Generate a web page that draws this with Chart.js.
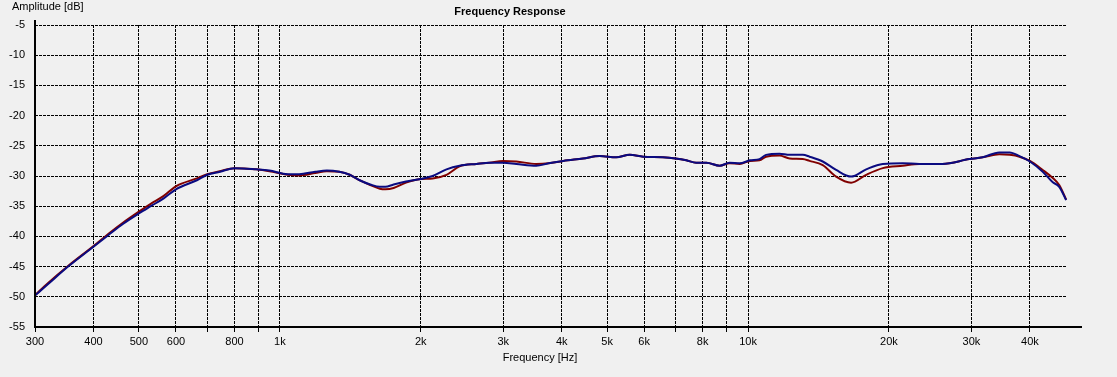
<!DOCTYPE html>
<html>
<head>
<meta charset="utf-8">
<script src="https://cdn.jsdelivr.net/npm/chart.js@4"></script>
<style>
  html, body { margin: 0; padding: 0; background: #f0f0f0; }
  #wrap { width: 1117px; height: 377px; }
</style>
</head>
<body>
<div id="wrap"><canvas id="c"></canvas></div>
<script>
const freqs = [300, 320, 353, 400, 430, 463, 500, 530, 565, 600, 665, 700, 745, 800, 890, 950,
  1040, 1100, 1190, 1260, 1340, 1410, 1480, 1560, 1635, 1680, 1750, 1860, 2000, 2120, 2270, 2420,
  2630, 2800, 3000, 3200, 3530, 3750, 4030, 4440, 4820, 5230, 5590, 5970, 6580, 7000, 7380, 7750,
  8150, 8700, 9130, 9600, 10100, 10580, 10930, 11670, 12270, 13090, 13530, 14440, 15420, 16600,
  17880, 19400, 21400, 23200, 26000, 29700, 31700, 34400, 36200, 38000, 40000, 42600, 44700, 46200, 47800];

const blueDb = [-49.8, -47.9, -45.0, -41.7, -39.8, -37.9, -36.2, -35.0, -33.7, -32.2, -30.7, -29.8, -29.3, -28.7, -28.9, -29.1,
  -29.7, -29.7, -29.3, -29.1, -29.3, -29.8, -30.7, -31.4, -31.8, -31.8, -31.4, -30.9, -30.5, -30.0, -28.9, -28.3,
  -28.0, -27.8, -27.8, -28.0, -28.3, -27.9, -27.5, -27.1, -26.7, -26.9, -26.5, -26.8, -26.9, -27.1, -27.4, -27.8,
  -27.8, -28.3, -27.8, -27.9, -27.4, -27.2, -26.5, -26.3, -26.5, -26.5, -26.8, -27.6, -29.0, -30.1,
  -28.9, -28.0, -27.9, -28.0, -28.0, -27.2, -26.9, -26.1, -26.1, -26.7, -27.6, -29.3, -31.0, -31.8, -34.0];

const redDb = [-49.7, -47.7, -44.9, -41.6, -39.6, -37.7, -35.9, -34.6, -33.3, -31.7, -30.4, -29.7, -29.2, -28.7, -28.9, -29.2,
  -29.8, -29.9, -29.5, -29.2, -29.3, -29.8, -30.7, -31.5, -32.1, -32.2, -32.0, -31.1, -30.5, -30.4, -29.8, -28.4,
  -28.0, -27.8, -27.5, -27.6, -28.0, -27.9, -27.5, -27.1, -26.7, -26.9, -26.5, -26.8, -26.9, -27.1, -27.4, -27.8,
  -27.8, -28.3, -27.9, -28.0, -27.5, -27.4, -26.8, -26.6, -27.1, -27.2, -27.5, -28.2, -30.1, -31.1,
  -29.8, -28.7, -28.3, -28.0, -28.0, -27.2, -26.9, -26.4, -26.5, -26.8, -27.5, -29.0, -30.3, -31.5, -33.9];

const xTicks = [300, 400, 500, 600, 700, 800, 900, 1000, 2000, 3000, 4000, 5000, 6000, 7000, 8000, 9000,
  10000, 20000, 30000, 40000];
const xNoLabel = [700, 900, 7000, 9000];

const font = 'Liberation Sans, Arial, sans-serif';

const frame = {
  id: 'frame',
  beforeDraw(chart) {
    const { ctx, width, height } = chart;
    ctx.save();
    ctx.fillStyle = '#f0f0f0';
    ctx.fillRect(0, 0, width, height);
    ctx.restore();
  },
  afterDraw(chart) {
    const { ctx, chartArea: a } = chart;
    ctx.save();
    ctx.strokeStyle = '#000';
    ctx.lineWidth = 2;
    ctx.beginPath();
    ctx.moveTo(a.left, a.top - 5);
    ctx.lineTo(a.left, a.bottom);
    ctx.lineTo(a.right + 15, a.bottom);
    ctx.stroke();

    ctx.fillStyle = '#000';
    ctx.textBaseline = 'middle';
    ctx.font = '11px ' + font;
    ctx.textAlign = 'left';
    ctx.fillText('Amplitude [dB]', 12, 7);
    ctx.textAlign = 'center';
    ctx.fillText('Frequency [Hz]', 540, 358);
    ctx.font = 'bold 11px ' + font;
    ctx.fillText('Frequency Response', 510, 12);
    ctx.restore();
  }
};

new Chart(document.getElementById('c'), {
  type: 'line',
  data: {
    labels: freqs,
    datasets: [
      { label: 'B', data: freqs.map((f, i) => ({ x: f, y: blueDb[i] })), borderColor: '#0a0a80', borderWidth: 2,
        pointRadius: 0, tension: 0.3, cubicInterpolationMode: 'monotone' },
      { label: 'R', data: freqs.map((f, i) => ({ x: f, y: redDb[i] })), borderColor: '#800000', borderWidth: 2,
        pointRadius: 0, tension: 0.3, cubicInterpolationMode: 'monotone' }
    ]
  },
  options: {
    responsive: true,
    maintainAspectRatio: false,
    animation: false,
    layout: { padding: { top: 25, right: 50, left: 0, bottom: 0 } },
    plugins: { legend: { display: false }, tooltip: { enabled: false }, title: { display: false } },
    scales: {
      x: {
        type: 'logarithmic',
        min: 300,
        max: 48000,
        afterBuildTicks: (s) => { s.ticks = xTicks.map(v => ({ value: v })); },
        afterFit: (s) => { s.height = 50; },
        grid: { color: '#000', lineWidth: 1, drawTicks: true, tickLength: 5, tickColor: '#000' },
        border: { display: false, dash: [3, 1] },
        ticks: {
          autoSkip: false, maxRotation: 0, padding: 3, color: '#000',
          font: { family: font, size: 11 },
          callback: (v) => xNoLabel.includes(v) ? '' : (v >= 1000 ? (v / 1000) + 'k' : String(v))
        }
      },
      y: {
        min: -55,
        max: -5,
        afterFit: (s) => { s.width = 35; },
        grid: { color: '#000', lineWidth: 1, drawTicks: false },
        border: { display: false, dash: [3, 1] },
        ticks: { stepSize: 5, padding: 10, color: '#000', font: { family: font, size: 11 } }
      }
    }
  },
  plugins: [frame]
});
</script>
</body>
</html>
